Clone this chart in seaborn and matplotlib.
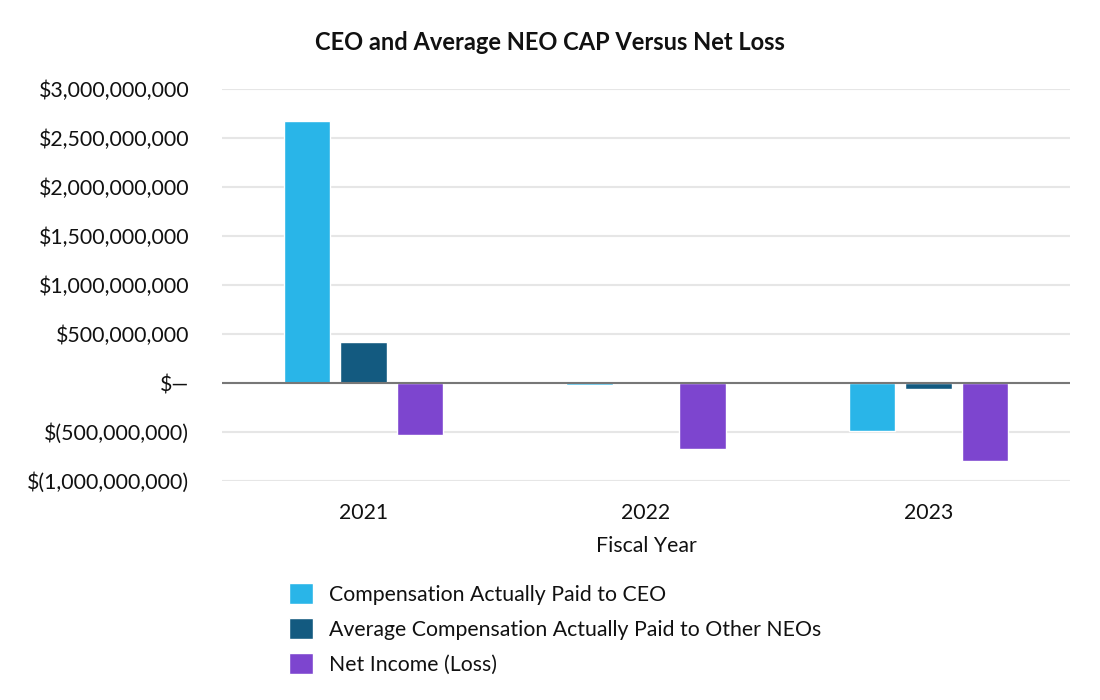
import pandas as pd
import numpy as np
import matplotlib
matplotlib.use("Agg")
import matplotlib.pyplot as plt
import seaborn as sns
from matplotlib.ticker import FuncFormatter

# Data (values in dollars)
years = ["2021", "2022", "2023"]
ceo_cap = [2670e6, -20e6, -490e6]
neo_cap = [420e6, 0, -65e6]
net_income = [-530e6, -675e6, -800e6]

series_names = ["Compensation Actually Paid to CEO",
                "Average Compensation Actually Paid to Other NEOs",
                "Net Income (Loss)"]
colors = ["#29b5e8", "#135a80", "#7d45cf"]

df = pd.DataFrame({
    "Fiscal Year": years * 3,
    "Series": [series_names[0]] * 3 + [series_names[1]] * 3 + [series_names[2]] * 3,
    "Value": ceo_cap + neo_cap + net_income,
})

sns.set_theme(style="white")
plt.rcParams["font.family"] = ["Lato", "DejaVu Sans"]

fig = plt.figure(figsize=(11, 7), dpi=100)
ax = fig.add_axes([222 / 1100, 1 - 481 / 700, (1070 - 222) / 1100, (481 - 89) / 700])

sns.barplot(data=df, x="Fiscal Year", y="Value", hue="Series", hue_order=series_names,
            palette=colors, width=0.6, gap=0.18, ax=ax, legend=True, saturation=1)

ax.set_ylim(-1e9, 3e9)
ax.set_yticks(np.arange(-1e9, 3.01e9, 5e8))
ax.grid(axis="y", color="#e6e6e6", lw=1.5)
ax.set_axisbelow(True)
ax.axhline(0, color="#777777", lw=1.5, zorder=3)
for s in ax.spines.values():
    s.set_visible(False)


def money(v, pos):
    if abs(v) < 1:
        return "$\u2014"
    if v < 0:
        return "$({:,.0f})".format(-v)
    return "${:,.0f}".format(v)


ax.yaxis.set_major_formatter(FuncFormatter(money))
ax.tick_params(axis="y", length=0, pad=23.5, labelsize=15.3, labelcolor="#111111")
ax.tick_params(axis="x", length=0, pad=15.5, labelsize=15.3, labelcolor="#111111")
ax.set_ylabel("")
ax.set_xlabel("Fiscal Year", fontsize=15.3, color="#111111", labelpad=10)

fig.text(0.5, 1 - 42 / 700, "CEO and Average NEO CAP Versus Net Loss",
         ha="center", va="center", fontsize=17, fontweight="bold", color="#111111")

handles, labels = ax.get_legend_handles_labels()
ax.legend_.remove()
fig.legend(handles, labels, loc="upper left", bbox_to_anchor=(0.245, 0.194),
           frameon=False, fontsize=15.3, handlelength=1.15, handleheight=1.15,
           handletextpad=0.77, labelspacing=0.62, labelcolor="#111111")

fig.savefig("out.png", dpi=100)
